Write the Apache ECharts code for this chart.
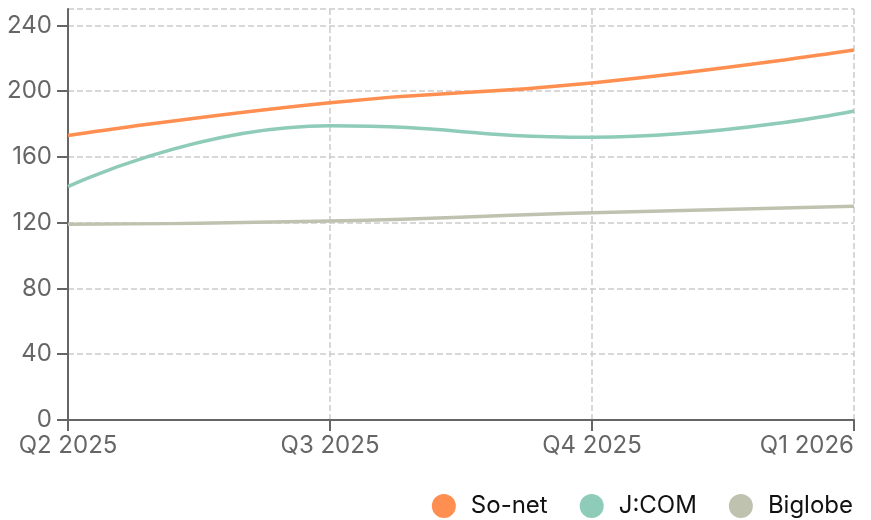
<!DOCTYPE html>
<html>
<head>
<meta charset="utf-8">
<script src="https://cdn.jsdelivr.net/npm/echarts@6/dist/echarts.min.js"></script>
<style>
  html, body { margin: 0; padding: 0; background: #fff; }
  #main { width: 871px; height: 520px; }
</style>
</head>
<body>
<div id="main"></div>
<script>
// 四半期ごとの値
var quarters = ['Q2 2025', 'Q3 2025', 'Q4 2025', 'Q1 2026'];
var sonet = [173, 193, 205, 225];
var jcom = [142, 179, 172, 188];
var biglobe = [119, 121, 126, 130];

var chart = echarts.init(document.getElementById('main'));

function line(name, data, color) {
	return {
		name: name,
		type: 'line',
		smooth: true,
		symbol: 'none',
		data: data,
		lineStyle: { width: 3.5, color: color },
		itemStyle: { color: color }
	};
}

var option = {
	animation: false,
	textStyle: { fontFamily: 'Inter' },
	grid: { left: 68, right: 17, top: 9, bottom: 100, containLabel: false },
	legend: {
		right: 13,
		bottom: -3,
		icon: 'circle',
		itemWidth: 44,
		itemHeight: 24,
		itemGap: 32,
		textStyle: { fontSize: 24, color: '#111', fontFamily: 'Inter' },
		data: ['So-net', 'J:COM', 'Biglobe']
	},
	xAxis: {
		type: 'category',
		data: quarters,
		boundaryGap: false,
		axisLine: { lineStyle: { color: '#666', width: 2 } },
		axisTick: { show: true, length: 11, lineStyle: { color: '#666', width: 2 } },
		axisLabel: { fontSize: 24, color: '#666', margin: 14, alignMaxLabel: 'right' },
		splitLine: { show: true, lineStyle: { color: '#ccc', type: 'dashed', width: 1.5 } }
	},
	yAxis: {
		type: 'value',
		min: 0,
		max: 250,
		interval: 40,
		axisLine: { show: true, lineStyle: { color: '#666', width: 2 } },
		axisTick: { show: true, length: 11, lineStyle: { color: '#666', width: 2 } },
		axisLabel: { fontSize: 24, color: '#666', margin: 16, showMaxLabel: false },
		splitLine: { show: true, lineStyle: { color: '#ccc', type: 'dashed', width: 1.5 } }
	},
	series: [
		line('So-net', sonet, '#ff8f50'),
		line('J:COM', jcom, '#8ecbb8'),
		line('Biglobe', biglobe, '#c0c2b0')
	]
};

chart.setOption(option);
</script>
</body>
</html>
